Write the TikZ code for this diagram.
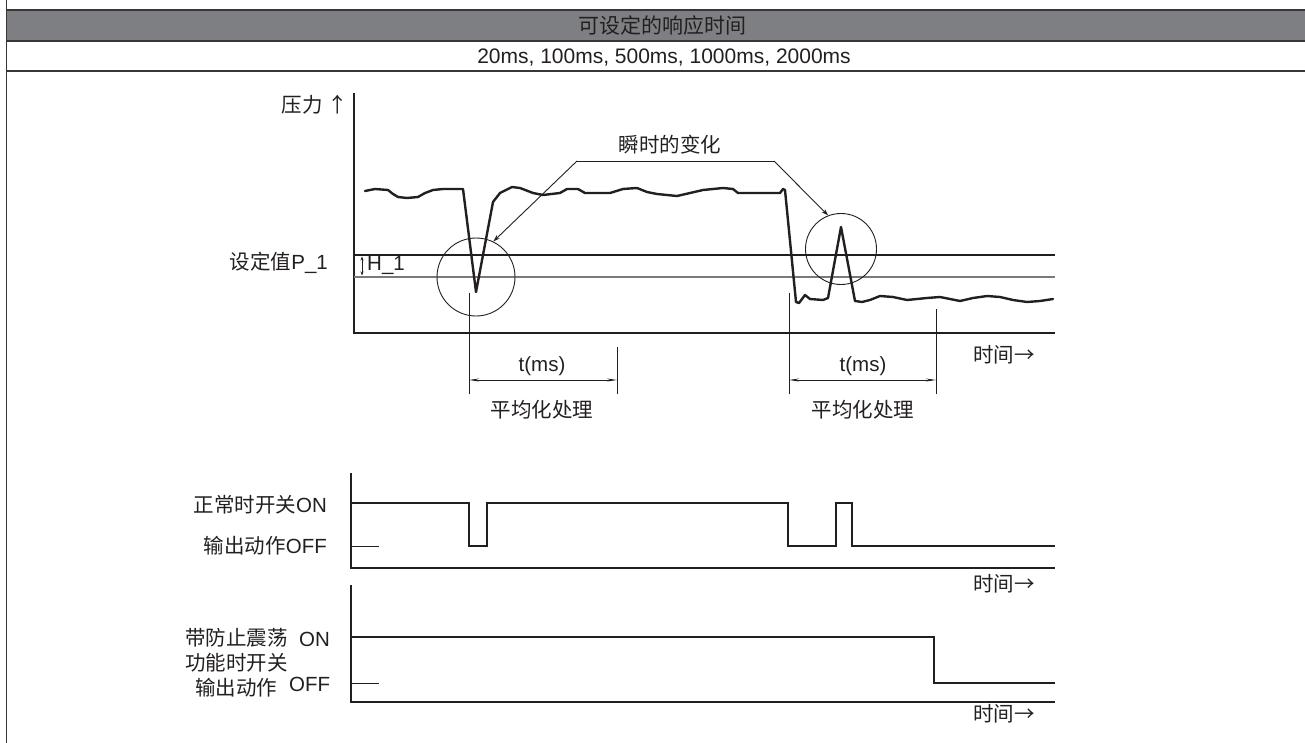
\documentclass[tikz,border=0pt]{standalone}
\usepackage{fontspec}
\setmainfont{Liberation Sans}
\newfontfamily\cjk{Noto Sans CJK SC}
\usetikzlibrary{arrows.meta}
\definecolor{ink}{HTML}{231F20}
\definecolor{band}{HTML}{7E7F83}
\definecolor{rule}{HTML}{3A3536}
\definecolor{thr}{HTML}{7A7A7A}
\begin{document}
\begin{tikzpicture}[x=1pt,y=-1pt,
  lbl/.style={font=\fontsize{20.5}{24}\selectfont, text=ink, inner sep=0pt},
  hdr/.style={font=\fontsize{21}{24}\selectfont, text=ink, inner sep=0pt},
  axis/.style={draw=ink, line width=1.1pt},
  sig/.style={draw=ink, line width=2.6pt, line join=miter},
  wave/.style={draw=ink, line width=2.4pt, line join=round, line cap=round},
  thinln/.style={draw=ink, line width=0.9pt},
  ring/.style={circle, draw=ink, line width=0.9pt, inner sep=0pt},
  lead/.style={draw=ink, line width=0.9pt},
  tipA/.style={-{Stealth[length=7pt,width=4.5pt]}},
  dim/.style={draw=ink, line width=0.9pt, {Stealth[length=10pt,width=3pt]}-{Stealth[length=10pt,width=3pt]}},
]
\useasboundingbox (0,0) rectangle (1305,743);
% ---------- header table ----------
\fill[band] (6.5,10.5) rectangle (1305,41);
\draw[rule, line width=2pt] (6.5,10.5) -- (1305,10.5);
\draw[rule, line width=2pt] (6.5,41) -- (1305,41);
\draw[rule, line width=1.6pt] (6.5,71) -- (1305,71);
\draw[rule, line width=1.6pt] (6.5,0) -- (6.5,743);
\node[hdr] (title) at (662,26) {\cjk 可设定的响应时间};
\node[hdr] (times) at (664,58) {20ms, 100ms, 500ms, 1000ms, 2000ms};
% ---------- pressure chart ----------
\draw[axis] (354,93) -- (354,333) -- (1055,333);
\draw[draw=ink, line width=1.1pt] (354,255) -- (1055,255);
\draw[draw=thr, line width=1.8pt] (354,277) -- (1055,277);
\draw[draw=ink, line width=0.8pt, {Stealth[length=4pt,width=3pt]}-{Stealth[length=4pt,width=3pt]}] (362,256.5) -- (362,275.5);
\node[lbl, anchor=west] (h1) at (367,265) {H\_1};
\node[lbl, anchor=east] (pres) at (348,105) {\cjk 压力 ↑};
\node[lbl, anchor=east] (setp) at (328,263) {{\cjk 设定值}P\_1};
\node[lbl, anchor=west] (tax1) at (973,355) {\cjk 时间→};
\draw[wave] (365,191) -- (375,189) -- (388,190) -- (393,194) -- (398,197) -- (407,198) -- (418,197) -- (425,193) -- (433,190) -- (443,189) -- (463,189)
  -- (476,292) -- (493,202) -- (500,193) -- (512,187) -- (520,188) -- (533,193) -- (543,195) -- (560,193) -- (567,189) -- (578,189) -- (585,193)
  -- (610,193) -- (623,189) -- (637,188) -- (647,192) -- (657,194) -- (677,196) -- (690,193) -- (703,190) -- (723,188) -- (733,189) -- (738,193)
  -- (757,193) -- (780,193) -- (783,189) -- (785,190) -- (796,302) -- (799,303) -- (805,295) -- (810,299) -- (823,300) -- (828,298)
  -- (841,227) -- (855,301) -- (862,302) -- (870,300) -- (880,296) -- (893,297) -- (907,300) -- (927,298) -- (940,297) -- (960,301)
  -- (973,298) -- (987,296) -- (1000,297) -- (1013,300) -- (1027,302) -- (1040,301) -- (1053,299);
\node[ring, minimum size=78pt] (c1) at (476,277) {};
\node[ring, minimum size=71pt] (c2) at (841,249) {};
\node[lbl] (inst) at (670,145) {\cjk 瞬时的变化};
\coordinate (kl) at (577,161);
\coordinate (kr) at (774,161);
\draw[lead, tipA] (kl) -- (c1.64);
\draw[lead, tipA] (kr) -- (c2.111);
\draw[lead] (kl) -- (kr);
% averaging markers
\draw[thinln] (469,293) -- (469,394);
\draw[thinln] (617,347) -- (617,394);
\draw[thinln] (789,293) -- (789,394);
\draw[thinln] (936,309) -- (936,394);
\coordinate (d1a) at (469,380);
\coordinate (d1b) at (617,380);
\coordinate (d2a) at (789,380);
\coordinate (d2b) at (936,380);
\draw[dim] (d1a) -- (d1b);
\draw[dim] (d2a) -- (d2b);
\node[lbl] (t1) at (542,366) {t(ms)};
\node[lbl] (t2) at (863,366) {t(ms)};
\node[lbl] (avg1) at (542,410) {\cjk 平均化处理};
\node[lbl] (avg2) at (863,410) {\cjk 平均化处理};
% ---------- normal switch ----------
\draw[axis] (351,473) -- (351,568) -- (1055,568);
\draw[thinln] (351,546) -- (379,546);
\draw[sig] (351,503) -- (469,503) -- (469,546) -- (487,546) -- (487,503) -- (788,503) -- (788,546) -- (836,546) -- (836,503) -- (852,503) -- (852,546) -- (1055,546);
\node[lbl, anchor=east] (on1) at (327,505) {{\cjk 正常时开关}ON};
\node[lbl, anchor=east] (off1) at (327,546) {{\cjk 输出动作}OFF};
\node[lbl, anchor=west] (tax2) at (973,584) {\cjk 时间→};
% ---------- anti-chatter switch ----------
\draw[axis] (351,585) -- (351,702) -- (1055,702);
\draw[thinln] (351,683) -- (379,683);
\draw[sig] (351,637) -- (934,637) -- (934,683) -- (1055,683);
\node[lbl, anchor=west] (ac1) at (185,638) {\cjk 带防止震荡};
\node[lbl, anchor=west] (on2) at (299,639) {ON};
\node[lbl, anchor=west] (ac2) at (185,663) {\cjk 功能时开关};
\node[lbl, anchor=west] (ac3) at (195,688) {\cjk 输出动作};
\node[lbl, anchor=west] (off2) at (289,684) {OFF};
\node[lbl, anchor=west] (tax3) at (973,714) {\cjk 时间→};
\end{tikzpicture}
\end{document}
